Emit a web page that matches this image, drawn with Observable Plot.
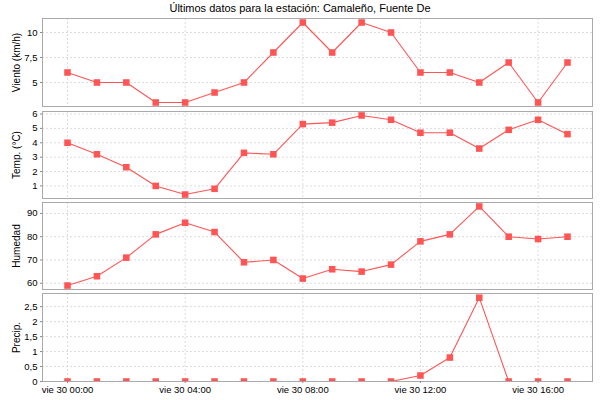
<!DOCTYPE html>
<html>
<head>
<meta charset="utf-8">
<script src="https://cdn.jsdelivr.net/npm/d3@7"></script>
<script src="https://cdn.jsdelivr.net/npm/@observablehq/plot@0.6"></script>
<style>
  html, body { margin: 0; padding: 0; background: #fff; }
  #root { position: relative; width: 600px; height: 400px; overflow: hidden; font-family: "Liberation Sans", Arial, sans-serif; }
  #title { position: absolute; left: 0; top: 1px; width: 600px; text-align: center; font-size: 11px; line-height: 14px; color: #000; }
  .panel { position: absolute; left: 0; }
</style>
</head>
<body>
<div id="root"><div id="title">Últimos datos para la estación: Camaleño, Fuente De</div></div>
<script>
// ---- data ----
const hours = [0, 1, 2, 3, 4, 5, 6, 7, 8, 9, 10, 11, 12, 13, 14, 15, 16, 17];
const viento = [6, 5, 5, 3, 3, 4, 5, 8, 11, 8, 11, 10, 6, 6, 5, 7, 3, 7];
const temp = [4, 3.2, 2.3, 1.0, 0.4, 0.8, 3.3, 3.2, 5.3, 5.4, 5.9, 5.6, 4.7, 4.7, 3.6, 4.9, 5.6, 4.6];
const humedad = [59, 63, 71, 81, 86, 82, 69, 70, 62, 66, 65, 68, 78, 81, 93, 80, 79, 80];
const precip = [0, 0, 0, 0, 0, 0, 0, 0, 0, 0, 0, 0, 0.2, 0.8, 2.8, 0, 0, 0];

const xTickHours = [0, 4, 8, 12, 16];
const xTickLabels = ["vie 30 00:00", "vie 30 04:00", "vie 30 08:00", "vie 30 12:00", "vie 30 16:00"];

const vientoTicks = [5, 7.5, 10];
const tempTicks = [1, 2, 3, 4, 5, 6];
const humedadTicks = [60, 70, 80, 90];
const precipTicks = [0, 0.5, 1, 1.5, 2, 2.5];

// ---- helpers ----
const toDate = h => new Date(Date.UTC(2021, 3, 30, 0) + h * 3600e3);
const xDomain = [toDate(-0.85), toDate(17.85)];
const xTicks = xTickHours.map(toDate);
const fmtComma = d => String(d).replace(".", ",");
const RED = "#ff5555";
const GRID = "#dcdcdc";

function panel({values, domain, ticks, label, top, bottom, last}) {
  const mt = 3, mb = last ? 20 : 3;
  const height = bottom - top + mt + mb;
  const data = hours.map((h, i) => ({t: toDate(h), v: values[i]}));
  const marks = [
    Plot.gridX(xTicks, {stroke: GRID, strokeOpacity: 1, strokeDasharray: "2,2"}),
    Plot.gridY(ticks, {stroke: GRID, strokeOpacity: 1, strokeDasharray: "2,2"}),
    Plot.line(data, {x: "t", y: "v", stroke: RED, strokeWidth: 1.1, clip: true}),
    Plot.dot(data, {x: "t", y: "v", symbol: "square", r: 3.7, fill: RED, stroke: "none", clip: true}),
    Plot.frame({stroke: "#aaaaaa"}),
    Plot.axisY(ticks, {tickSize: 2, tickPadding: 3, tickFormat: fmtComma, label: null, stroke: "#888", fontSize: 9.5}),
    Plot.text([label], {frameAnchor: "left", rotate: -90, dx: -26, fontSize: 10, textAnchor: "middle", fill: "#000"})
  ];
  if (last) {
    marks.push(Plot.axisX(xTicks, {tickSize: 2, tickPadding: 3, tickFormat: (d, i) => xTickLabels[i], label: null, stroke: "#888", fontSize: 9.5}));
  }
  const plot = Plot.plot({
    width: 600,
    height,
    marginLeft: 42,
    marginRight: 8,
    marginTop: mt,
    marginBottom: mb,
    style: {fontFamily: "'Liberation Sans', Arial, sans-serif", fontSize: "10px", color: "#000", background: "transparent", overflow: "visible"},
    x: {type: "utc", domain: xDomain, axis: null},
    y: {domain, axis: null},
    marks
  });
  plot.classList.add("panel");
  plot.style.top = (top - mt) + "px";
  document.getElementById("root").appendChild(plot);
}

panel({values: viento, domain: [2.6, 11.4], ticks: vientoTicks, label: "Viento (km/h)", top: 18, bottom: 106});
panel({values: temp, domain: [0.125, 6.175], ticks: tempTicks, label: "Temp. (°C)", top: 111, bottom: 198});
panel({values: humedad, domain: [57.3, 94.7], ticks: humedadTicks, label: "Humedad", top: 202, bottom: 289});
panel({values: precip, domain: [0, 2.94], ticks: precipTicks, label: "Precip.", top: 293, bottom: 381, last: true});
</script>
</body>
</html>
